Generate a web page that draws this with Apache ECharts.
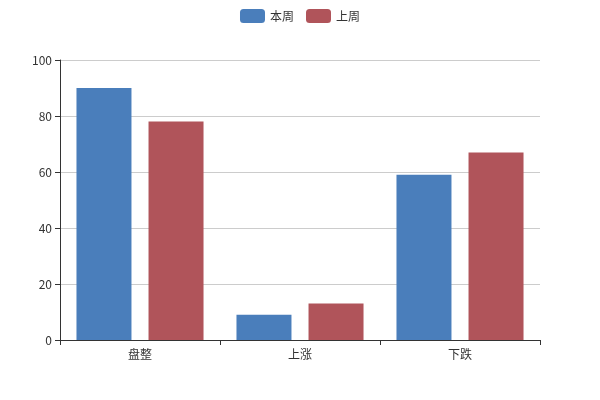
<!DOCTYPE html>
<html><head><meta charset="utf-8">
<script src="https://cdn.jsdelivr.net/npm/echarts@6/dist/echarts.min.js"></script>
<style>html,body{margin:0;padding:0;background:#fff}#c{width:600px;height:400px}</style>
</head><body><div id="c"></div>
<script>
const categories = ['盘整', '上涨', '下跌'];
const thisWeek = [90, 9, 59];
const lastWeek = [78, 13, 67];
const seriesNames = ['本周', '上周'];
const yTicks = { min: 0, max: 100, interval: 20 };

const chart = echarts.init(document.getElementById('c'), null, { renderer: 'canvas' });
chart.setOption({
  animation: false,
  textStyle: { fontFamily: '"Noto Sans CJK SC", "Noto Sans", sans-serif' },
  color: ['#4a7ebb', '#b0545a'],
  legend: {
    top: 4, left: 'center',
    itemWidth: 25, itemHeight: 14, itemGap: 12,
    textStyle: { color: '#333', fontSize: 12 },
    data: seriesNames
  },
  grid: { left: 60, right: 60, top: 60, bottom: 60, containLabel: false },
  xAxis: {
    type: 'category', data: categories,
    axisLine: { lineStyle: { color: '#333' } },
    axisTick: { show: true, alignWithLabel: false, lineStyle: { color: '#333' } },
    axisLabel: { color: '#333', fontSize: 12, margin: 8 }
  },
  yAxis: {
    type: 'value', min: yTicks.min, max: yTicks.max, interval: yTicks.interval,
    axisLine: { show: true, lineStyle: { color: '#333' } },
    axisTick: { show: true, lineStyle: { color: '#333' } },
    axisLabel: { color: '#333', fontSize: 12 },
    splitLine: { lineStyle: { color: '#ccc' } }
  },
  series: [
    { name: seriesNames[0], type: 'bar', data: thisWeek, barWidth: 55, barGap: '31%' },
    { name: seriesNames[1], type: 'bar', data: lastWeek, barWidth: 55, barGap: '31%' }
  ]
});
</script></body></html>
